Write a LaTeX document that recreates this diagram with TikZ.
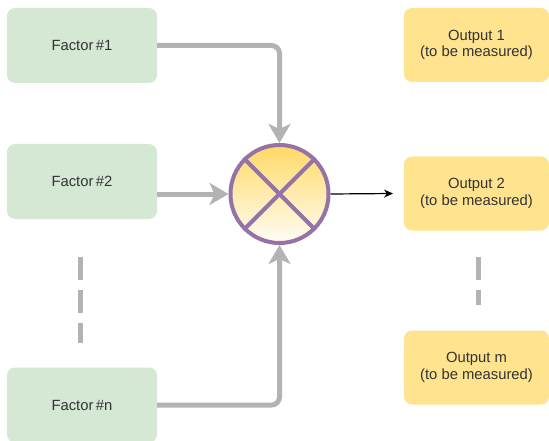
\documentclass[tikz,border=0pt]{standalone}
\usepackage{fontspec}
\setmainfont{Liberation Sans}
\usetikzlibrary{arrows.meta}
\definecolor{gfill}{HTML}{D5E8D4}
\definecolor{yfill}{HTML}{FFE38F}
\definecolor{gline}{HTML}{B3B3B3}
\definecolor{purp}{HTML}{9673A6}
\definecolor{ytop}{HTML}{FFD966}
\definecolor{ybot}{HTML}{FFFDF5}
\definecolor{txt}{HTML}{333333}
\tikzset{
  factorbox/.style={fill=gfill, rounded corners=8pt, minimum width=150pt, minimum height=75pt, inner sep=0pt, font=\fontsize{14.8}{16.5}\selectfont, text=txt, align=center},
  outbox/.style={fill=yfill, rounded corners=8pt, minimum width=145pt, minimum height=74pt, inner sep=0pt, font=\fontsize{14.8}{16.5}\selectfont, text=txt, align=center},
  feed/.style={draw=gline, line width=5pt, rounded corners=8pt, -{Stealth[length=19pt,width=22pt,inset=5pt]}},
  dots/.style={draw=gline, line width=5pt, dash pattern=on 23pt off 10pt},
}
\begin{document}
\begin{tikzpicture}[x=1pt,y=-1pt]
\useasboundingbox (0,0) rectangle (549,441);
\node[factorbox] (f1) at (82,45.5) {Factor\,\#1};
\node[factorbox] (f2) at (82,181.5) {Factor\,\#2};
\node[factorbox] (fn) at (82,405) {Factor\,\#n};
\node[outbox] (o1) at (476.5,45) {Output 1\\(to be measured)};
\node[outbox] (o2) at (476.5,193.5) {Output 2\\(to be measured)};
\node[outbox] (om) at (476.5,367.5) {Output m\\(to be measured)};
\node[circle, draw=purp, line width=4pt, minimum size=98pt, inner sep=0pt, top color=ytop, bottom color=ybot] (c) at (279.5,194) {};
\draw[purp, line width=4pt] (c.45) -- (c.225);
\draw[purp, line width=4pt] (c.135) -- (c.315);
\coordinate (k1) at (c.north |- f1.east);
\coordinate (kn) at (c.south |- fn.east);
\draw[feed] (f1.east) -- (k1) -- (c.north);
\draw[feed] (f2.east |- c.west) -- (c.west);
\draw[feed] (fn.east) -- (kn) -- (c.south);
\coordinate (ahead) at (393,193.5);
\draw[black, line width=1.2pt, -{Stealth[length=9pt,width=8pt]}] (c.east) -- (ahead);
\coordinate (d1a) at (80,257);
\coordinate (d1b) at (80,343);
\coordinate (d2a) at (478,257);
\coordinate (d2b) at (478,305);
\draw[dots] (d1a) -- (d1b);
\draw[dots] (d2a) -- (d2b);
\end{tikzpicture}
\end{document}
